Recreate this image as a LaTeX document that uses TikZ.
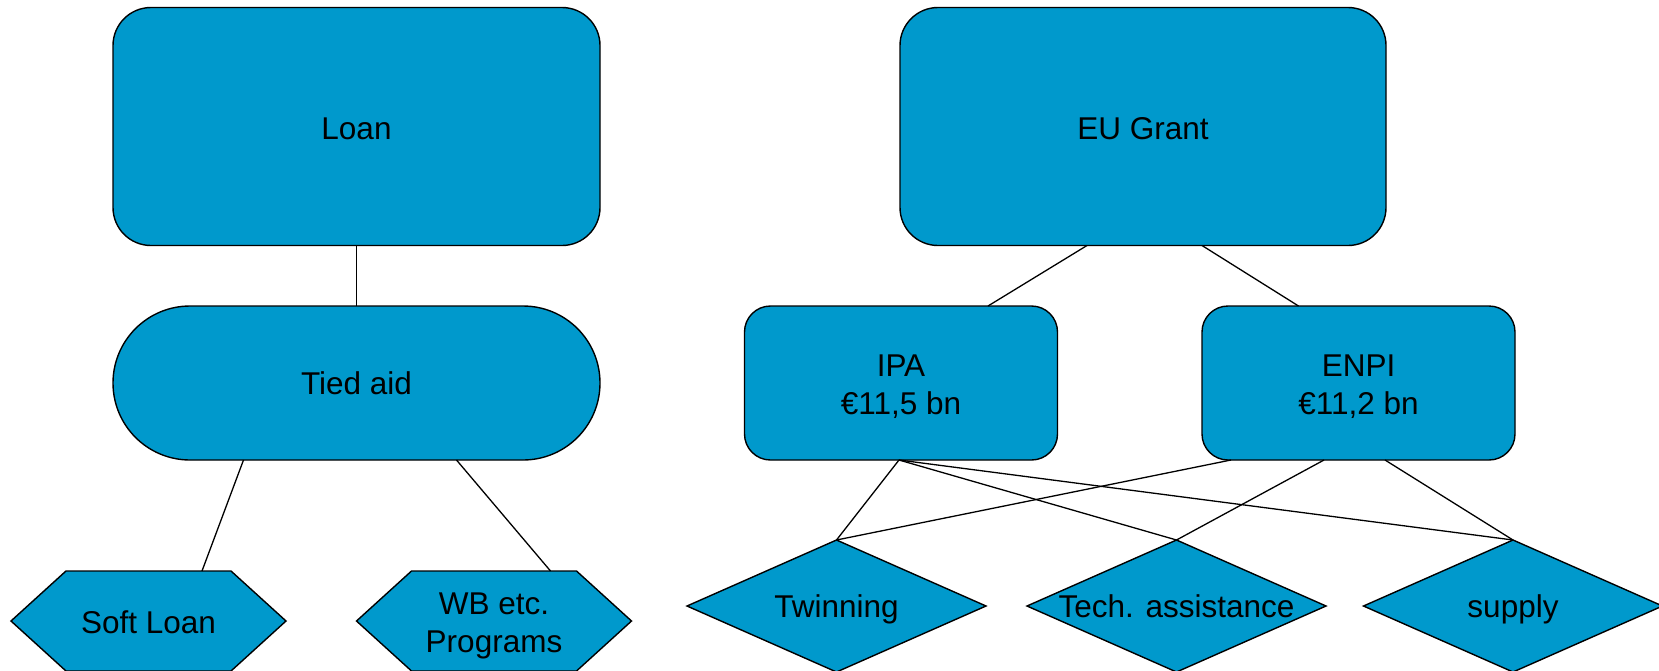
\documentclass[tikz,border=0pt]{standalone}
\usepackage{fontspec}
\setmainfont{Liberation Sans}
\usetikzlibrary{shapes.geometric,calc}
\definecolor{boxblue}{RGB}{0,153,204}
\begin{document}
\begin{tikzpicture}[x=1pt,y=-1pt,
  every node/.style={font=\fontsize{31.5}{38}\selectfont, text=black, inner sep=0pt, outer sep=0pt},
  shapefill/.style={draw=black, fill=boxblue, line width=1.4pt},
  bigbox/.style={shapefill, rectangle, rounded corners=38pt, minimum width=487pt, minimum height=238pt, text height=25.6pt, text depth=0pt},
  pillbox/.style={shapefill, rectangle, rounded corners=77pt, minimum width=487pt, minimum height=154pt},
  midbox/.style={shapefill, rectangle, rounded corners=26pt, minimum width=313pt, minimum height=154pt},
  twoline/.style={align=center, yshift=-3.5pt},
  diam/.style={shapefill, diamond, minimum width=299pt, minimum height=132pt},
  dlabel/.style={text depth=0pt},
  conn/.style={draw=black, line width=1.3pt}
]
\useasboundingbox (0,0) rectangle (1659,670);

% left tree
\node[bigbox] (loan) at (356.5,126.5) {Loan};
\node[pillbox] (tied) at (356.5,383) {Tied aid};

\coordinate (softc) at (148.5,621);
\draw[shapefill] ($(softc)+(-137.5,0)$) -- ++(55,-50) -- ++(165,0) -- ++(55,50) -- ++(-55,50) -- ++(-165,0) -- cycle;
\node (soft) at ($(softc)+(0,1)$) {Soft Loan};
\coordinate (softtop) at ($(softc)+(53.5,-50)$);

\coordinate (wbc) at (494,621);
\draw[shapefill] ($(wbc)+(-137.5,0)$) -- ++(55,-50) -- ++(165,0) -- ++(55,50) -- ++(-55,50) -- ++(-165,0) -- cycle;
\node[align=center] (wb) at ($(wbc)+(0,5)$) {WB etc.\\Programs};
\coordinate (wbtop) at ($(wbc)+(56.5,-50)$);

% right tree
\node[bigbox, minimum width=486pt] (eu) at (1143,126.5) {EU Grant};
\node[midbox, label={[twoline]center:{IPA\\€11,5 bn}}] (ipa) at (901,383) {};
\node[midbox, label={[twoline]center:{ENPI\\€11,2 bn}}] (enpi) at (1358.5,383) {};

\node[diam, label={[dlabel]center:Twinning}] (twin) at (836.5,606) {};
\node[diam, label={[dlabel]center:Tech. assistance}] (tech) at (1176.5,606) {};
\node[diam, label={[dlabel]center:supply}] (supply) at (1513,606) {};

% connectors
\draw[conn] (loan.south) -- (tied.north);
\draw[conn] ($(tied.south)+(-113,0)$) -- (softtop);
\draw[conn] ($(tied.south)+(100,0)$) -- (wbtop);

\draw[conn] ($(eu.south)+(-56,0)$) -- ($(ipa.north)+(87,0)$);
\draw[conn] ($(eu.south)+(59,0)$) -- ($(enpi.north)+(-60,0)$);

\draw[conn] ($(ipa.south)+(-2,0)$) -- (twin.north);
\draw[conn] ($(ipa.south)+(-2,0)$) -- (tech.north);
\draw[conn] ($(ipa.south)+(-2,0)$) -- (supply.north);
\draw[conn] ($(enpi.south)+(-127.5,0)$) -- (twin.north);
\draw[conn] ($(enpi.south)+(-34.5,0)$) -- (tech.north);
\draw[conn] ($(enpi.south)+(26.5,0)$) -- (supply.north);
\end{tikzpicture}
\end{document}
